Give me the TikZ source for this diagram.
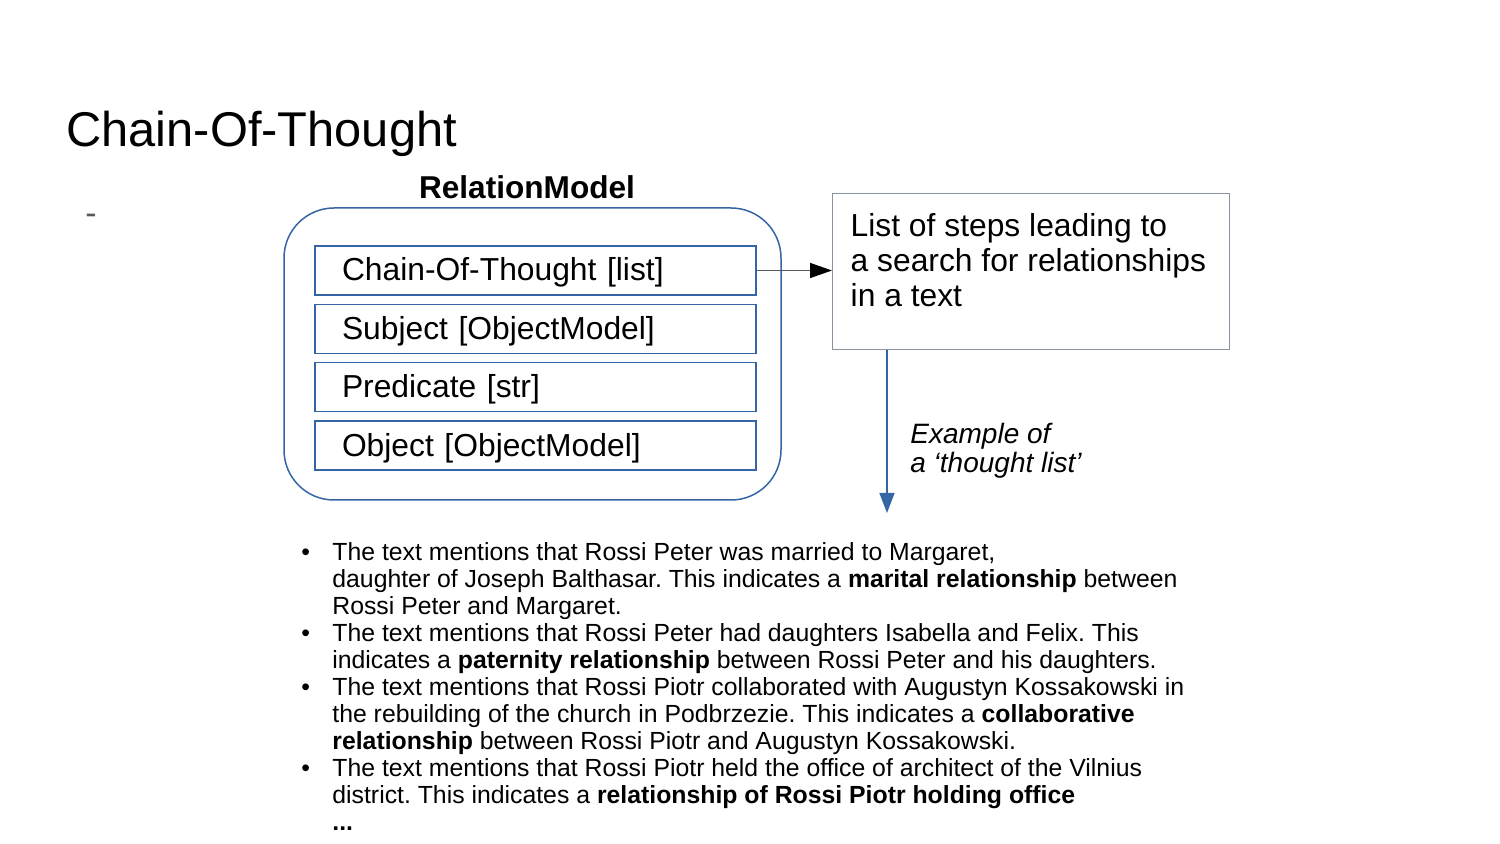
\documentclass[tikz,border=0pt]{standalone}
\usepackage{fontspec}
\setmainfont{Liberation Sans}
\usepackage{tikz}
\frenchspacing
\definecolor{lineblue}{HTML}{3465A4}
\definecolor{framegray}{HTML}{8A93A3}
\tikzstyle{group}=[draw=lineblue, line width=0.75pt, rounded corners=25pt, minimum width=248.5pt, minimum height=146pt]
\tikzstyle{field}=[draw=lineblue, line width=0.7pt, minimum width=220.5pt, minimum height=24.5pt, text width=193.5pt, inner xsep=13.5pt, text height=12.5pt, text depth=2pt, align=left, font=\fontsize{15.9}{17.5}\selectfont]
\tikzstyle{note}=[draw=framegray, line width=0.7pt, inner xsep=9pt, inner ysep=10pt, font=\fontsize{15.9}{17.5}\selectfont]
\tikzstyle{arrow}=[line width=0.75pt,->]
\usetikzlibrary{arrows.meta,positioning,calc}

\begin{document}
\begin{tikzpicture}[x=0.5pt,y=-0.5pt,node distance=4pt,>={Triangle[length=10pt,width=7.5pt]}]
    \useasboundingbox (0,0) rectangle (1500,844);
    \node (title) [anchor=base west,inner sep=0,font=\fontsize{24.4}{29}\selectfont] at (66,147) {Chain-Of-Thought};
    \node (dash) [text=black!65,font=\fontsize{17}{18}\selectfont] at (91,219) {-};
    \node (rm) [group] at (532.5,354) {};
    \node (name) [above=4pt of rm,inner sep=0,xshift=-2.75pt,font=\bfseries\fontsize{15.8}{18}\selectfont] {RelationModel};
    \node (cot) [field] at (535.5,270.5) {Chain-Of-Thought [list]};
    \node (subj) [field,below=of cot] {Subject [ObjectModel]};
    \node (pred) [field,below=of subj] {Predicate [str]};
    \node (obj) [field,below=of pred] {Object [ObjectModel]};
    \node (steps) [note,anchor=north west] at (832,193) {\parbox[c][58pt][t]{180.5pt}{\raggedright List of steps leading to\\ a search for relationships\\ in a text}};
    \coordinate (ex) at (887,513);
    \node (eg) [anchor=north west,inner sep=0,align=left,font=\itshape\fontsize{14}{14.5}\selectfont] at (910,423) {Example of\\ a ‘thought list’};
    \node (list) [anchor=north west,inner sep=0,font=\fontsize{12.4}{13.5}\selectfont] at (301,541) {%
    \begin{tabular}{@{}p{15.5pt}@{}l@{}}
    \textbullet & The text mentions that Rossi Peter was married to Margaret,\\
     & daughter of Joseph Balthasar. This indicates a \textbf{marital relationship} between\\
     & Rossi Peter and Margaret.\\
    \textbullet & The text mentions that Rossi Peter had daughters Isabella and Felix. This\\
     & indicates a \textbf{paternity relationship} between Rossi Peter and his daughters.\\
    \textbullet & The text mentions that Rossi Piotr collaborated with Augustyn Kossakowski in\\
     & the rebuilding of the church in Podbrzezie. This indicates a \textbf{collaborative}\\
     & \textbf{relationship} between Rossi Piotr and Augustyn Kossakowski.\\
    \textbullet & The text mentions that Rossi Piotr held the office of architect of the Vilnius\\
     & district. This indicates a \textbf{relationship of Rossi Piotr holding office}\\
     & \textbf{...}
    \end{tabular}};
    \path[arrow]
        (cot.east) edge[draw=black!65,-{Triangle[length=11pt,width=7.5pt,color=black]}] (cot.east -| steps.west)
        (ex |- steps.south) edge[draw=lineblue] (ex);
\end{tikzpicture}
\end{document}
